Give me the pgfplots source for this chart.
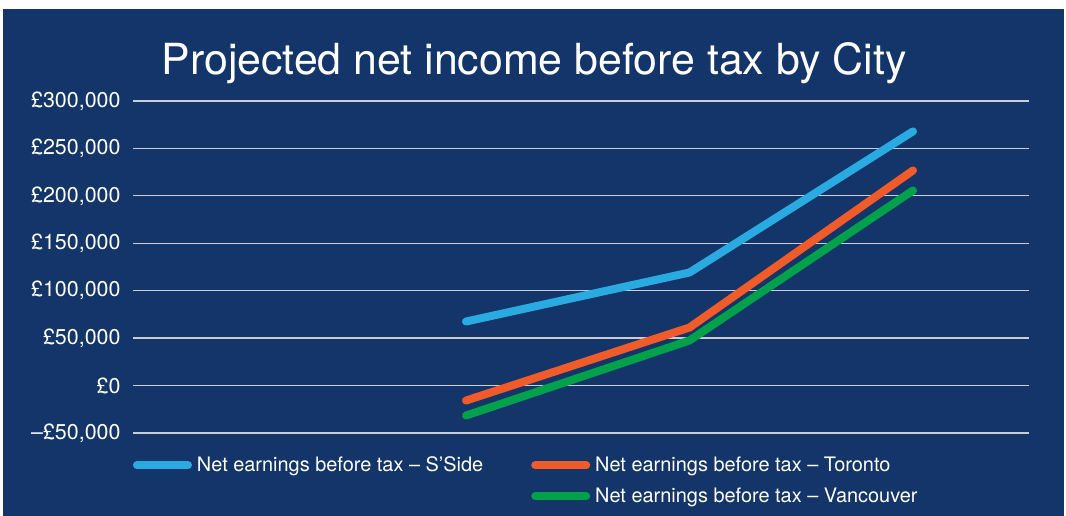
\documentclass[border=0pt]{standalone}
\usepackage{fontspec}
\setmainfont{TeX Gyre Heros}
\usepackage{pgfplots}
\pgfplotsset{compat=1.18}
\definecolor{navy}{RGB}{19,53,105}
\definecolor{sside}{RGB}{41,171,226}
\definecolor{toronto}{RGB}{241,90,41}
\definecolor{vanc}{RGB}{0,161,75}
\definecolor{gridc}{RGB}{200,205,215}
\begin{document}
\begin{tikzpicture}[x=1bp,y=1bp]
\useasboundingbox (0,0) rectangle (1066,516);
\fill[white] (0,0) rectangle (1066,516);
\fill[navy] (3,0) rectangle (1064,507);
\node[text=white, font=\fontsize{43}{50}\selectfont, anchor=base, inner sep=0] at (534,441) {Projected net income before tax by City};
\begin{axis}[
  at={(133bp,83bp)}, anchor=south west, scale only axis,
  width=896bp, height=332bp,
  xmin=-0.49, xmax=3.519, ymin=-50000, ymax=300000,
  axis line style={draw=none},
  xtick=\empty,
  scaled y ticks=false,
  ytick={-50000,0,50000,100000,150000,200000,250000,300000},
  yticklabels={{--£50,000},{£0},{£50,000},{£100,000},{£150,000},{£200,000},{£250,000},{£300,000}},
  major tick length=0pt,
  ymajorgrids, grid style={gridc, line width=1.3bp},
  yticklabel style={text=white, font=\fontsize{21.5}{25}\selectfont, anchor=east, xshift=-9bp},
  clip=false,
  legend image code/.code={\draw[line width=8bp, line cap=round, #1] (4bp,0bp) -- (55bp,0bp); \path (58bp,0bp);},
  legend cell align=left,
  legend columns=2,
  legend style={at={(0,0)}, anchor=north west, draw=none, fill=none, text=white,
    font=\fontsize{20}{24}\selectfont, inner sep=0pt, outer sep=0pt,
    yshift=-22bp, xshift=0bp, row sep=11bp,
    /tikz/every even column/.append style={column sep=46bp}},
]
\addplot[sside, line width=8bp, line cap=round, line join=round] coordinates {(1,67500) (2,119200) (3,268000)};
\addlegendentry{Net earnings before tax -- S’Side}
\addplot[toronto, line width=8bp, line cap=round, line join=round] coordinates {(1,-15800) (2,61200) (3,226800)};
\addlegendentry{Net earnings before tax -- Toronto}
\addlegendimage{empty legend}
\addlegendentry{}
\addplot[vanc, line width=8bp, line cap=round, line join=round] coordinates {(1,-31600) (2,47500) (3,205700)};
\addlegendentry{Net earnings before tax -- Vancouver}
\end{axis}
\end{tikzpicture}
\end{document}
